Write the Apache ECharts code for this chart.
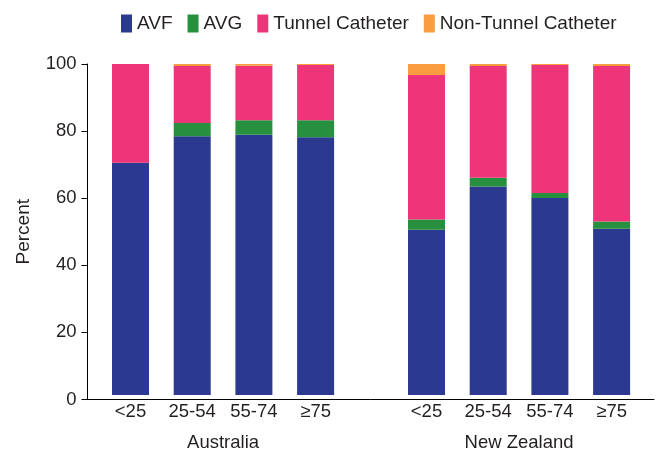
<!DOCTYPE html>
<html>
<head>
<meta charset="utf-8">
<script src="https://cdn.jsdelivr.net/npm/echarts@6/dist/echarts.min.js"></script>
<style>html,body{margin:0;padding:0;background:#fff;}#c{width:661px;height:452px;}</style>
</head>
<body>
<div id="c"></div>
<script>
var categories = ['<25', '25-54', '55-74', '≥75'];
var groups = ['Australia', 'New Zealand'];
var seriesNames = ['AVF', 'AVG', 'Tunnel Catheter', 'Non-Tunnel Catheter'];
var yTicks = [0, 20, 40, 60, 80, 100];

var auAVF = [70.2, 78.2, 78.6, 77.9];
var auAVG = [0, 4.0, 4.4, 5.1];
var auTunnel = [29.8, 17.2, 16.5, 16.7];
var auNonTunnel = [0, 0.6, 0.5, 0.3];

var nzAVF = [49.9, 63.0, 59.5, 50.2];
var nzAVG = [3.1, 2.6, 1.5, 2.2];
var nzTunnel = [43.7, 33.8, 38.7, 47.0];
var nzNonTunnel = [3.3, 0.6, 0.5, 0.6];

var colors = ['#2B3990', '#27903E', '#EE357A', '#F99D3E'];
var font = 'Liberation Sans, Arial, sans-serif';
var txt = '#231F20';

var gridTop = 64, gridBottom = 52.5;
var groupW = 246.8;

function catAxis(gi) {
  return {
    type: 'category', gridIndex: gi, data: categories,
    axisLine: {show: false}, axisTick: {show: false},
    axisLabel: {color: txt, fontSize: 18.5, fontFamily: font, margin: 7}
  };
}
function groupAxis(gi, name) {
  return {
    type: 'category', gridIndex: gi, data: [name], position: 'bottom', offset: 33,
    axisLine: {show: false}, axisTick: {show: false},
    axisLabel: {color: txt, fontSize: 18.5, fontFamily: font, margin: 5}
  };
}
function hiddenY(gi) {
  return {type: 'value', gridIndex: gi, min: 0, max: 100, interval: 20, show: false};
}
function bars(gi, stack, arrs) {
  return arrs.map(function (d, i) {
    return {
      name: seriesNames[i], type: 'bar', stack: stack, xAxisIndex: gi * 2, yAxisIndex: gi,
      data: d, barWidth: 37, itemStyle: {color: colors[i]}, emphasis: {disabled: true}
    };
  });
}

var chart = echarts.init(document.getElementById('c'), null, {renderer: 'canvas'});
chart.setOption({
  animation: false,
  color: colors,
  legend: {
    data: seriesNames, left: 121, top: 14, padding: 0, icon: 'rect', itemWidth: 11, itemHeight: 18, itemGap: 15,
    textStyle: {color: txt, fontSize: 19, fontFamily: font}
  },
  grid: [
    {left: 99.65, width: groupW, top: gridTop, bottom: gridBottom},
    {left: 395.65, width: groupW, top: gridTop, bottom: gridBottom},
    {left: 87.5, right: 7, top: gridTop, bottom: gridBottom}
  ],
  xAxis: [
    catAxis(0), groupAxis(0, groups[0]),
    catAxis(1), groupAxis(1, groups[1]),
    {type: 'value', gridIndex: 2, min: 0, max: 1, axisLabel: {show: false}, axisTick: {show: false},
     splitLine: {show: false}, axisLine: {show: true, lineStyle: {color: '#000', width: 1}}}
  ],
  yAxis: [
    hiddenY(0), hiddenY(1),
    {type: 'value', gridIndex: 2, min: yTicks[0], max: yTicks[yTicks.length - 1], interval: 20,
     name: 'Percent', nameLocation: 'middle', nameGap: 54,
     nameTextStyle: {color: txt, fontSize: 19, fontFamily: font},
     axisLine: {show: true, lineStyle: {color: '#000', width: 1}},
     axisTick: {show: true, length: 6, lineStyle: {color: '#000'}},
     axisLabel: {color: txt, fontSize: 18.5, fontFamily: font, margin: 11},
     splitLine: {show: false}}
  ],
  series: bars(0, 'au', [auAVF, auAVG, auTunnel, auNonTunnel])
    .concat(bars(1, 'nz', [nzAVF, nzAVG, nzTunnel, nzNonTunnel]))
});
</script>
</body>
</html>
